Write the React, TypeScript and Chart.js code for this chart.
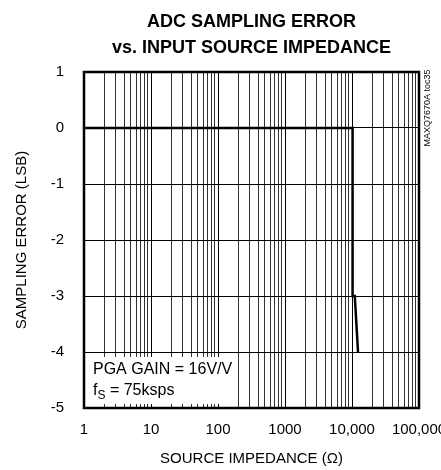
import React, { useEffect, useRef } from "react";
import { Chart, registerables } from "chart.js";
Chart.register(...registerables);

// Data
const impedance = [1, 10200, 10200, 11000, 12300];
const samplingError = [0, 0, -3, -3, -4];
const xDecades = [1, 10, 100, 1000, 10000, 100000];
const xDecadeLabels = ["1", "10", "100", "1000", "10,000", "100,000"];
const yMin = -5;
const yMax = 1;
const titleLines = ["ADC SAMPLING ERROR", "vs. INPUT SOURCE IMPEDANCE"];
const xTitle = "SOURCE IMPEDANCE (Ω)";
const yTitle = "SAMPLING ERROR (LSB)";
const noteLine1 = "PGA GAIN = 16V/V";
const noteLine2Main = "f";
const noteLine2Sub = "S";
const noteLine2Rest = " = 75ksps";
const partLabel = "MAXQ7670A toc35";

const FONT = "'Liberation Sans', Arial, sans-serif";

const textPlugin = {
  id: "textPlugin",
  beforeDatasetsDraw(chart: any) {
    const { ctx, chartArea, scales } = chart;
    const y4 = scales.y.getPixelForValue(-4);
    const x200 = scales.x.getPixelForValue(200);
    ctx.save();
    ctx.fillStyle = "#fff";
    const left = chartArea.left + 1.5;
    const top = y4 + 5;
    const right = x200 - 1.5;
    const bottom = chartArea.bottom - 4;
    ctx.fillRect(left, top, right - left, bottom - top);
    ctx.fillStyle = "#000";
    ctx.textAlign = "left";
    ctx.textBaseline = "alphabetic";
    ctx.font = `16px ${FONT}`;
    ctx.fillText(noteLine1, 93, 374);
    ctx.fillText(noteLine2Main, 93, 395);
    const fw = ctx.measureText(noteLine2Main).width;
    ctx.font = `12px ${FONT}`;
    ctx.fillText(noteLine2Sub, 93 + fw, 399);
    const sw = ctx.measureText(noteLine2Sub).width;
    ctx.font = `16px ${FONT}`;
    ctx.fillText(noteLine2Rest, 93 + fw + sw, 395);
    ctx.restore();
  },
  afterDraw(chart: any) {
    const { ctx, chartArea } = chart;
    ctx.save();
    ctx.strokeStyle = "#000";
    ctx.lineWidth = 2.5;
    ctx.strokeRect(chartArea.left, chartArea.top, chartArea.right - chartArea.left, chartArea.bottom - chartArea.top);
    const cx = (chartArea.left + chartArea.right) / 2;
    const cy = (chartArea.top + chartArea.bottom) / 2;
    ctx.fillStyle = "#000";
    ctx.textAlign = "center";
    ctx.textBaseline = "alphabetic";
    ctx.font = `bold 18px ${FONT}`;
    ctx.fillText(titleLines[0], cx, 27);
    ctx.fillText(titleLines[1], cx, 53);
    ctx.font = `15px ${FONT}`;
    ctx.fillText(xTitle, cx, 463);
    ctx.save();
    ctx.translate(22, cy);
    ctx.rotate(-Math.PI / 2);
    ctx.textBaseline = "middle";
    ctx.fillText(yTitle, 0, 0);
    ctx.restore();
    ctx.save();
    ctx.translate(428, 108);
    ctx.rotate(-Math.PI / 2);
    ctx.textBaseline = "middle";
    ctx.font = `9px ${FONT}`;
    ctx.fillText(partLabel, 0, 0);
    ctx.restore();
    ctx.restore();
  },
};

export default function App() {
  const ref = useRef<HTMLCanvasElement | null>(null);
  useEffect(() => {
    if (!ref.current) return;
    const chart = new Chart(ref.current, {
      type: "scatter",
      data: {
        datasets: [
          {
            data: impedance.map((x, i) => ({ x, y: samplingError[i] })),
            showLine: true,
            borderColor: "#000",
            borderWidth: 2.5,
            pointRadius: 0,
            tension: 0,
          },
        ],
      },
      options: {
        animation: false,
        responsive: true,
        maintainAspectRatio: false,
        layout: { padding: { top: 72, right: 22, left: 0, bottom: 0 } },
        plugins: { legend: { display: false }, title: { display: false }, tooltip: { enabled: false } },
        scales: {
          x: {
            type: "logarithmic",
            min: 1,
            max: 100000,
            afterBuildTicks: (scale: any) => {
              const vals: number[] = [];
              for (let d = 0; d < xDecades.length - 1; d++) {
                for (let m = 1; m < 10; m++) vals.push(xDecades[d] * m);
              }
              vals.push(xDecades[xDecades.length - 1]);
              scale.ticks = vals.map((v) => ({ value: v }));
            },
            afterFit: (scale: any) => {
              scale.height = 62;
              scale.paddingLeft = 0;
              scale.paddingRight = 0;
            },
            ticks: {
              autoSkip: false,
              maxRotation: 0,
              minRotation: 0,
              padding: 13,
              color: "#000",
              font: { family: FONT, size: 15 },
              callback: (v: any) => {
                const i = xDecades.indexOf(Number(v));
                return i >= 0 ? xDecadeLabels[i] : "";
              },
            },
            grid: {
              color: (c: any) => (xDecades.indexOf(Number(c.tick && c.tick.value)) >= 0 ? "#000" : "#333"),
              lineWidth: 1,
              drawTicks: false,
            },
            border: { display: false },
          },
          y: {
            min: yMin,
            max: yMax,
            afterFit: (scale: any) => {
              scale.width = 84;
              scale.paddingTop = 0;
              scale.paddingBottom = 0;
            },
            ticks: {
              stepSize: 1,
              padding: 20,
              color: "#000",
              font: { family: FONT, size: 15 },
            },
            grid: { color: "#000", lineWidth: 1, drawTicks: false },
            border: { display: false },
          },
        },
      },
      plugins: [textPlugin],
    });
    return () => chart.destroy();
  }, []);
  return (
    <div style={{ position: "fixed", left: 0, top: 0, width: 441, height: 470, background: "#fff" }}>
      <canvas ref={ref} />
    </div>
  );
}
